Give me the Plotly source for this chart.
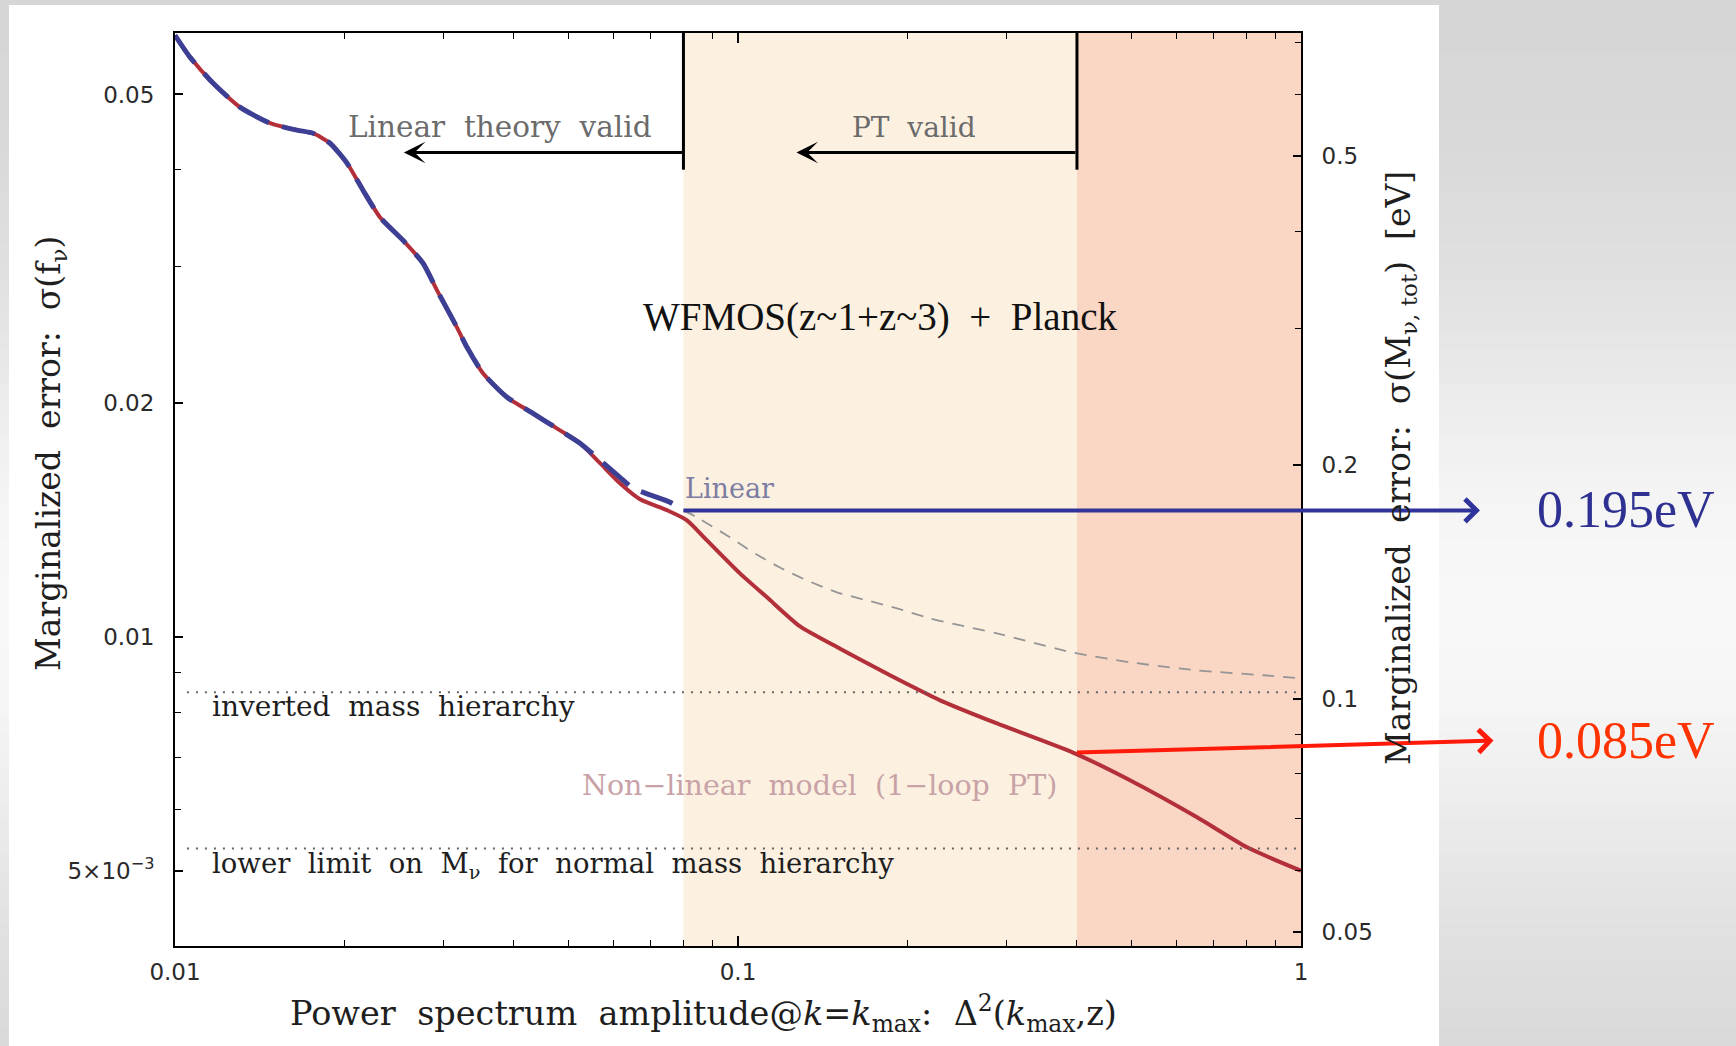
import numpy as np
import plotly.graph_objects as go

# ---------------- data ----------------
# non-linear model (1-loop PT): sigma(f_nu) vs Delta^2(k_max, z)
nl_x = [0.01, 0.01063, 0.01168, 0.01304, 0.01475, 0.01647, 0.01758, 0.01885, 0.02021, 0.02157,
        0.02312, 0.02541, 0.02758, 0.02920, 0.03168, 0.03301, 0.03524, 0.03888, 0.04323, 0.04829,
        0.05241, 0.05688, 0.06171, 0.06698, 0.07478, 0.08116, 0.08810, 0.1008, 0.1126, 0.1289,
        0.1518, 0.1737, 0.1997, 0.2285, 0.2884, 0.3936, 0.4969, 0.6537, 0.8020, 1.0]
nl_y = [0.0596, 0.05586, 0.05172, 0.04816, 0.04592, 0.04498, 0.04457, 0.04327, 0.04078, 0.03764,
        0.03475, 0.03244, 0.03031, 0.02797, 0.02506, 0.02362, 0.02187, 0.02037, 0.01942, 0.01846,
        0.01777, 0.01675, 0.01578, 0.01505, 0.01457, 0.01414, 0.01332, 0.01208, 0.01125, 0.01032,
        0.00966, 0.00917, 0.00870, 0.00829, 0.00774, 0.00710, 0.00654, 0.00586, 0.00536, 0.00500]

# linear model
lin_x = [0.01, 0.01063, 0.01168, 0.01304, 0.01475, 0.01647, 0.01758, 0.01885, 0.02021, 0.02157,
         0.02312, 0.02541, 0.02758, 0.02920, 0.03168, 0.03301, 0.03524, 0.03888, 0.04323, 0.04829,
         0.05241, 0.05688, 0.0617, 0.0651, 0.0757, 0.08, 0.08455, 0.0956, 0.1063, 0.1187,
         0.1326, 0.1499, 0.1695, 0.1916, 0.2193, 0.2884, 0.3936, 0.4969, 0.6537, 0.856, 1.0]
lin_y = [0.0596, 0.05586, 0.05172, 0.04816, 0.04592, 0.04498, 0.04457, 0.04327, 0.04078, 0.03764,
         0.03475, 0.03244, 0.03031, 0.02797, 0.02506, 0.02362, 0.02187, 0.02037, 0.01942, 0.01846,
         0.01777, 0.0169, 0.01606, 0.01555, 0.01492, 0.01456, 0.01426, 0.01352, 0.01286, 0.01229,
         0.01183, 0.01142, 0.01115, 0.01089, 0.01057, 0.01011, 0.00955, 0.00928, 0.00906, 0.00893, 0.00885]

# validity limits
k_linear_limit = 0.08
k_pt_limit = 0.4
arrow_linear_to = 0.0255
arrow_pt_to = 0.127
bracket_y = [0.0400, 0.06]
arrow_y = 0.0421

# mass hierarchy levels (in sigma(f_nu) units)
inverted_level = 0.00849
normal_level = 0.00534
hier_x = [0.0105, 1.0]

# values at the limits
lin_at_limit = 0.01456
nl_at_limit = 0.00710

# axis ticks
x_ticks = [0.01, 0.1, 1]
x_ticktext = ["0.01", "0.1", "1"]
x_minor = [0.02, 0.03, 0.04, 0.05, 0.06, 0.07, 0.08, 0.09, 0.2, 0.3, 0.4, 0.5, 0.6, 0.7, 0.8, 0.9]
y_ticks = [0.005, 0.01, 0.02, 0.05]
y_ticktext = ["5×10<sup>−3</sup>", "0.01", "0.02", "0.05"]
y_minor = [0.006, 0.007, 0.008, 0.009, 0.03, 0.04]
y2_ticks = [0.05, 0.1, 0.2, 0.5]
y2_ticktext = ["0.05", "0.1", "0.2", "0.5"]
y2_minor = [0.06, 0.07, 0.08, 0.09, 0.3, 0.4, 0.6, 0.7]
mass_factor = 12.0   # sigma(M_nu) [eV] per sigma(f_nu)

x_range = [0.01, 1.0]
y_range = [0.004, 0.06]

# ---------------- geometry ----------------
W, H = 1736, 1046
ML, MR, MT, MB = 175, 435, 33, 100
PW, PH = W - ML - MR, H - MT - MB


def px(X):
    return (X - ML) / PW


def py(Y):
    return (H - MB - Y) / PH


SERIF = "DejaVu Serif"
SANS = "DejaVu Sans"

fig = go.Figure()

lin_x_a = np.array(lin_x)
lin_y_a = np.array(lin_y)
m_lo = lin_x_a <= k_linear_limit
m_hi = lin_x_a >= k_linear_limit

# linear continuation (gray dashed)
fig.add_trace(go.Scatter(x=lin_x_a[m_hi], y=lin_y_a[m_hi], mode="lines",
                         line=dict(color="#959595", width=1.8, dash="12px,9px", shape="spline", smoothing=0.6),
                         hoverinfo="skip", showlegend=False))
# non-linear model (red)
fig.add_trace(go.Scatter(x=nl_x, y=nl_y, mode="lines",
                         line=dict(color="#b3303a", width=4, shape="spline", smoothing=0.6),
                         hoverinfo="skip", showlegend=False))
# linear model (blue dashed)
fig.add_trace(go.Scatter(x=lin_x_a[m_lo], y=lin_y_a[m_lo], mode="lines",
                         line=dict(color="#3c3f93", width=5, dash="34px,14px", shape="spline", smoothing=0.6),
                         hoverinfo="skip", showlegend=False))
# hierarchy dotted lines
for lvl in (inverted_level, normal_level):
    fig.add_trace(go.Scatter(x=hier_x, y=[lvl, lvl], mode="lines",
                             line=dict(color="#666666", width=2, dash="2px,7px"),
                             hoverinfo="skip", showlegend=False))
# vertical brackets
for kx in (k_linear_limit, k_pt_limit):
    fig.add_trace(go.Scatter(x=[kx, kx], y=bracket_y, mode="lines",
                             line=dict(color="black", width=3),
                             hoverinfo="skip", showlegend=False))
# dummy trace on right axis
fig.add_trace(go.Scatter(x=[0.5], y=[0.1], yaxis="y2", mode="markers",
                         marker=dict(opacity=0), hoverinfo="skip", showlegend=False))

# ---------------- background shapes ----------------
shapes = []
N = 60
for i in range(N):
    t = (i + 0.5) / N
    g = int(round(213 + 35 * np.exp(-((t - 0.58) / 0.3) ** 2)))
    shapes.append(dict(type="rect", xref="paper", yref="paper",
                       x0=px(0), x1=px(W), y0=py(i * H / N), y1=py((i + 1) * H / N + 1),
                       fillcolor=f"rgb({g},{g},{g})", line=dict(width=0), layer="below"))
shapes.append(dict(type="rect", xref="paper", yref="paper",
                   x0=px(9), x1=px(1439), y0=py(H + 2), y1=py(5),
                   fillcolor="white", line=dict(width=0), layer="below"))
shapes.append(dict(type="rect", xref="x", yref="paper", x0=k_linear_limit, x1=k_pt_limit, y0=0, y1=1,
                   fillcolor="#fcf1e1", line=dict(width=0), layer="below"))
shapes.append(dict(type="rect", xref="x", yref="paper", x0=k_pt_limit, x1=x_range[1], y0=0, y1=1,
                   fillcolor="#fad6c4", line=dict(width=0), layer="below"))

L = np.log10
ann = []
# black validity arrows
for x_from, x_to in ((k_linear_limit, arrow_linear_to), (k_pt_limit, arrow_pt_to)):
    ann.append(dict(x=L(x_to), y=L(arrow_y), xref="x", yref="y",
                    ax=L(x_from), ay=L(arrow_y), axref="x", ayref="y",
                    text="", showarrow=True, arrowhead=3, arrowsize=1.2, arrowwidth=3,
                    arrowcolor="black", standoff=0))


# text labels inside plot
def txt(x, y, s, size, color, family=SERIF, xanchor="center"):
    ann.append(dict(x=L(x), y=L(y), xref="x", yref="y", text=s, showarrow=False,
                    font=dict(family=family, size=size, color=color), xanchor=xanchor, yanchor="middle"))


txt(0.03779, 0.04538, "Linear  theory  valid", 29.5, "#6b6b6b")
txt(0.2054, 0.04538, "PT  valid", 28, "#6b6b6b")
txt(0.1788, 0.02582, "WFMOS(z~1+z~3)  +  Planck", 39, "#111111", family="Liberation Serif")
txt(0.0798, 0.01555, "Linear", 27, "#7d7da3", xanchor="left")
txt(0.1393, 0.00644, "Non−linear  model  (1−loop  PT)", 28.5, "#c9a2a7")
txt(0.01154, 0.00814, "inverted  mass  hierarchy", 28, "#1e1e1e", xanchor="left")
txt(0.01154, 0.00508, "lower  limit  on  M<sub>ν</sub>  for  normal  mass  hierarchy", 27.5, "#1e1e1e", xanchor="left")

# slide arrows (blue / red)
ann.append(dict(x=L(k_linear_limit), y=L(lin_at_limit), xref="x", yref="y",
                ax=798, ay=0, text="", showarrow=True,
                arrowside="start", startarrowhead=4, startarrowsize=1.1, arrowwidth=4,
                arrowcolor="#30349a", standoff=0, startstandoff=0))
ann.append(dict(x=L(k_pt_limit), y=L(nl_at_limit), xref="x", yref="y",
                ax=418, ay=-12, text="", showarrow=True,
                arrowside="start", startarrowhead=4, startarrowsize=1.1, arrowwidth=4,
                arrowcolor="#ff1a0a", standoff=0, startstandoff=0))


def ptxt(X, Y, s, size, color, family, angle=0):
    ann.append(dict(x=px(X), y=py(Y), xref="paper", yref="paper", text=s, showarrow=False,
                    textangle=angle, xanchor="center", yanchor="middle",
                    font=dict(family=family, size=size, color=color)))


ptxt(1626, 509, "0.195eV", 52, "#2e3192", "Liberation Serif")
ptxt(1626, 740, "0.085eV", 52, "#ff3300", "Liberation Serif")

# axis titles
ptxt(50, 454, "Marginalized  error:  σ(f<sub>ν</sub>)", 33, "#1e1e1e", SERIF, -90)
ptxt(1400, 468, "Marginalized  error:  σ(M<sub>ν, tot</sub>)  [eV]", 33, "#1e1e1e", SERIF, -90)
ptxt(703, 1013, "Power  spectrum  amplitude@<i>k</i>=<i>k</i><sub>max</sub>:  Δ<sup>2</sup>(<i>k</i><sub>max</sub>,z)",
     33.5, "#1e1e1e", SERIF)

axis_common = dict(type="log", showline=True, linecolor="black", linewidth=2, showgrid=False,
                   zeroline=False, ticks="inside", tickcolor="black",
                   tickfont=dict(family=SANS, size=23, color="#2a2a2a"))

fig.update_layout(
    width=W, height=H,
    margin=dict(l=ML, r=MR, t=MT, b=MB, pad=0),
    paper_bgcolor="#d6d6d6",
    plot_bgcolor="rgba(0,0,0,0)",
    shapes=shapes,
    annotations=ann,
    showlegend=False,
    xaxis=dict(**axis_common, range=[L(x_range[0]), L(x_range[1])], mirror="ticks",
               tickvals=x_ticks, ticktext=x_ticktext, ticklen=10, tickwidth=1.5,
               ticklabelstandoff=4,
               minor=dict(tickvals=x_minor, ticks="inside", ticklen=6, tickwidth=1.2, tickcolor="black")),
    yaxis=dict(**axis_common, range=[L(y_range[0]), L(y_range[1])],
               tickvals=y_ticks, ticktext=y_ticktext, ticklen=8, tickwidth=1.5,
               ticklabelstandoff=14,
               minor=dict(tickvals=y_minor, ticks="inside", ticklen=6, tickwidth=1.2, tickcolor="black")),
    yaxis2=dict(**axis_common, overlaying="y", side="right",
                range=[L(y_range[0] * mass_factor), L(y_range[1] * mass_factor)],
                tickvals=y2_ticks, ticktext=y2_ticktext, ticklen=8, tickwidth=1.5,
                ticklabelstandoff=14,
                minor=dict(tickvals=y2_minor, ticks="inside", ticklen=6, tickwidth=1.2, tickcolor="black")),
)

fig.write_html("out.html")
